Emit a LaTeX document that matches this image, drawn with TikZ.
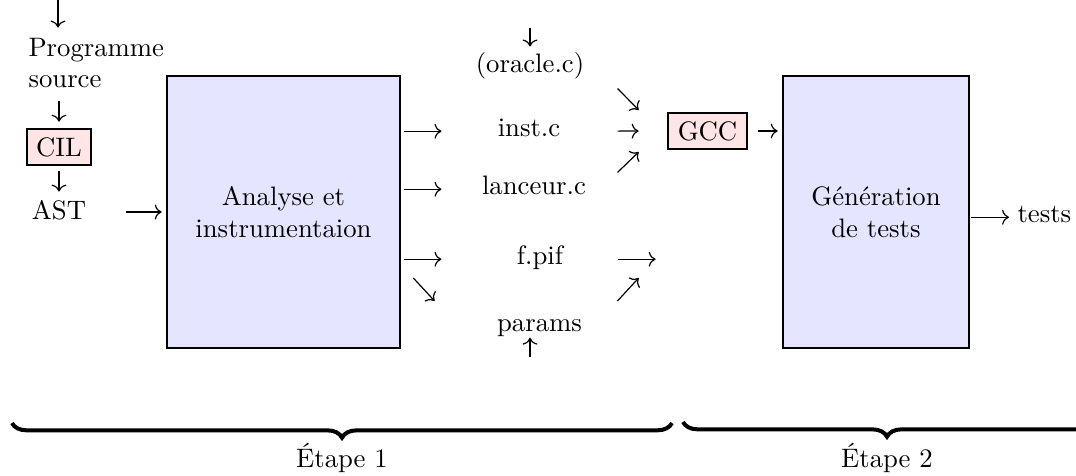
\documentclass[tikz,border=0pt]{standalone}
\usepackage{fontspec}
\usetikzlibrary{arrows.meta,calc,decorations.pathreplacing}
\begin{document}
\begin{tikzpicture}[x=0.3745pt,y=-0.3745pt,
  txt/.style={inner sep=0pt},
  smallbox/.style={draw,line width=1pt,fill=red!10,inner sep=0pt,minimum height=13.48pt},
  bigbox/.style={draw,line width=1pt,fill=blue!10,align=center,inner sep=0pt,minimum height=101.86pt},
  arr/.style={line width=0.45pt,-{To[length=2.6pt,width=5.6pt]}},
  stagebrace/.style={line width=1.5pt,decorate,decoration={brace,mirror,amplitude=5.5pt}}]
\useasboundingbox (0,0) rectangle (1076,476);
\clip (0,0) rectangle (1076,476);

% nodes
\node[txt,anchor=base west] (prog) at (28,57) {Programme};
\node[txt,anchor=base west] (src) at (28,88) {source};
\node[smallbox,minimum width=23.97pt] (cil) at (59,147) {CIL};
\node[txt,anchor=base] (ast) at (59,220) {AST};
\node[bigbox,minimum width=87.26pt] (ana) at (283.5,212) {Analyse et\\instrumentaion};
\node[txt,anchor=base] (oracle) at (530,73) {(oracle.c)};
\node[txt,anchor=base] (inst) at (529,137) {inst.c};
\node[txt,anchor=base] (lanc) at (534,195) {lanceur.c};
\node[txt,anchor=base] (fpif) at (540,265) {f.pif};
\node[txt,anchor=base] (params) at (539.5,332) {params};
\node[smallbox,minimum width=29.59pt] (gcc) at (707.5,131) {GCC};
\node[bigbox,minimum width=69.66pt] (gen) at (876,212) {Génération\\de tests};
\node[txt,anchor=base west] (tests) at (1017,223) {tests};
\node[txt,anchor=base] (et1) at (342,468) {Étape 1};
\node[txt,anchor=base] (et2) at (887,468) {Étape 2};

\coordinate (in0) at (58,0);
\coordinate (in1) at (530,28);
\coordinate (in2) at (530,357);

% left column
\draw[arr,shorten >=4pt] (in0) -- (in0 |- prog.north);
\draw[arr,shorten <=4.5pt,shorten >=2.25pt] (cil.north |- src.south) -- (cil.north);
\draw[arr,shorten <=1.9pt,shorten >=3.3pt] (cil.south) -- (ast.north);
\draw[arr,shorten <=14.6pt,shorten >=1.5pt] (ast.east |- ana.west) -- (ana.west);

% outputs of the analysis
\draw[arr,shorten <=1.1pt,shorten >=20.9pt] (inst.mid -| ana.east) -- (inst.mid west);
\draw[arr,shorten <=1.1pt,shorten >=15pt] (lanc.mid -| ana.east) -- (lanc.mid west);
\draw[arr,shorten <=1.1pt,shorten >=28.1pt] (fpif.mid -| ana.east) -- (fpif.mid west);
\draw[arr] ($(ana.east)+(12,66)$) -- ($(params.north west)+(-62,-18.5)$);

% middle column
\draw[arr,shorten >=2.25pt] (in1) -- (in1 |- oracle.north);
\draw[arr] (in2) -- (in2 |- params.south);

% towards GCC
\draw[arr] ($(oracle.south east)+(32.8,8.3)$) -- ($(gcc.west)+(-28,-21)$);
\draw[arr,shorten <=21.3pt,shorten >=10.5pt] (inst.mid east) -- (gcc.west);
\draw[arr] ($(lanc.north east)+(31,-3.5)$) -- ($(gcc.west)+(-28,21)$);

% towards test generation
\draw[arr,shorten <=20.2pt,shorten >=47.2pt] (fpif.mid east) -- (fpif.mid east -| gen.west);
\draw[arr] ($(params.north east)+(35,-18.5)$) -- ($(gen.west)+(-143,66)$);
\draw[arr,shorten <=3.7pt,shorten >=1.5pt] (gcc.east) -- (gcc.east -| gen.west);
\draw[arr,shorten <=0.4pt,shorten >=3pt] (tests.mid west -| gen.east) -- (tests.mid west);

% stages
\draw[stagebrace] (12,423) -- (672,423);
\draw[stagebrace] (683,422) -- (1091,422);
\end{tikzpicture}
\end{document}
